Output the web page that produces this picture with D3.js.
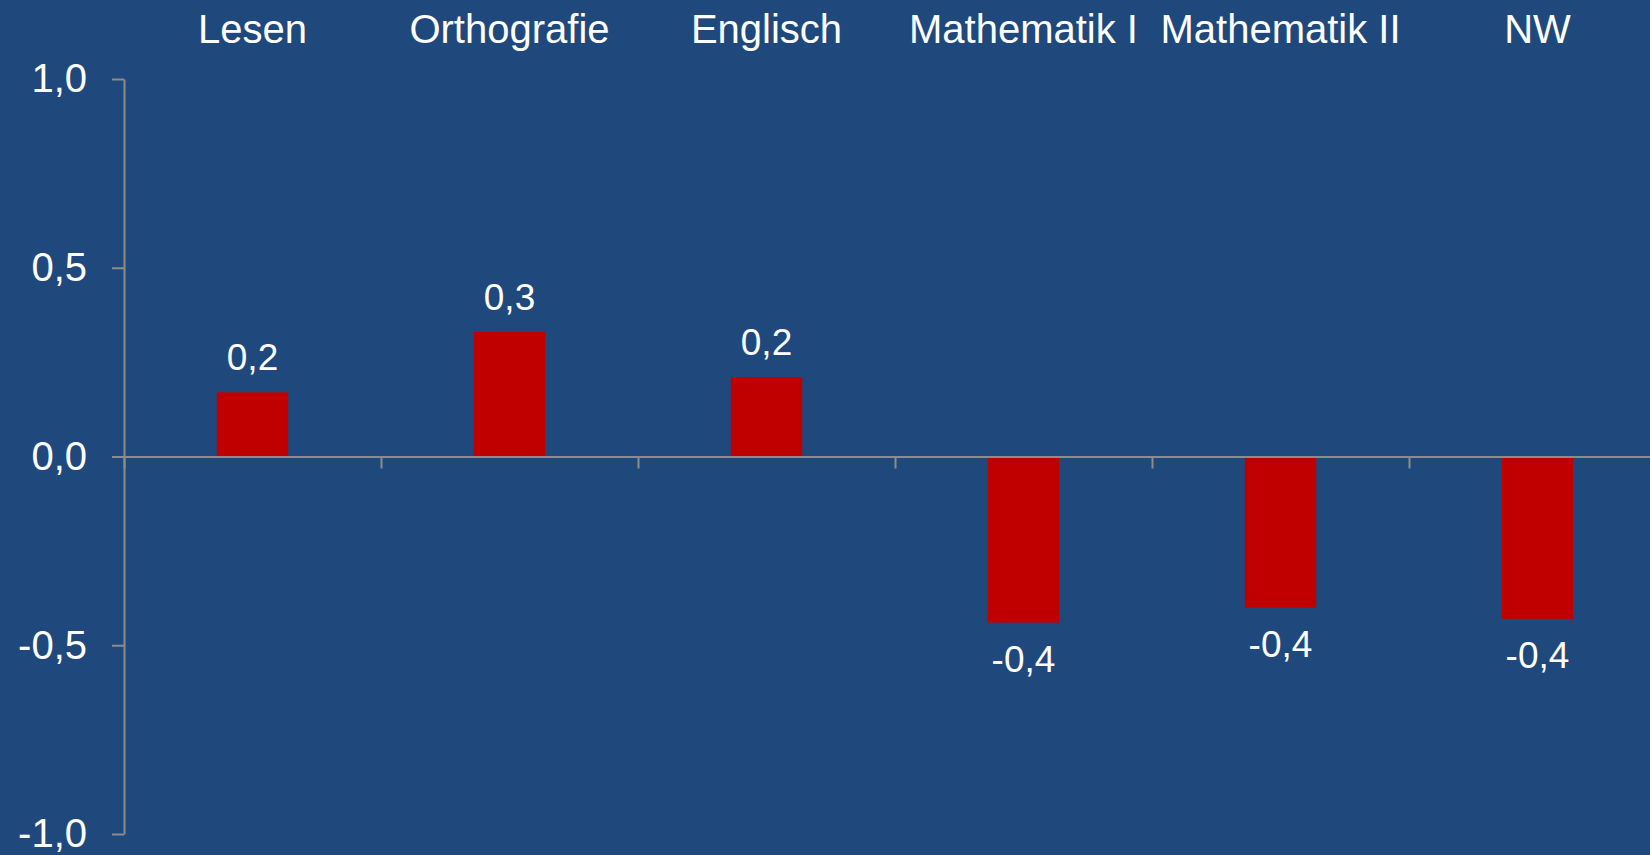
<!DOCTYPE html>
<html>
<head>
<meta charset="utf-8">
<script src="https://cdn.jsdelivr.net/npm/d3@7"></script>
<style>
  html, body { margin: 0; padding: 0; background: #1f497d; }
  svg { display: block; }
  text { font-family: "Liberation Sans", Arial, sans-serif; fill: #ffffff; }
</style>
</head>
<body>
<svg width="1650" height="855"></svg>
<script>
const categories = ["Lesen", "Orthografie", "Englisch", "Mathematik I", "Mathematik II", "NW"];
const values = [0.17, 0.33, 0.21, -0.44, -0.40, -0.43];
const yTicks = [-1, -0.5, 0, 0.5, 1];

const locale = d3.formatLocale({ decimal: ",", thousands: ".", grouping: [3], currency: ["", " €"], minus: "-" });
const fmt = locale.format(".1f");

const svg = d3.select("svg");
const width = 1650, height = 855;
const margin = { top: 79, left: 124, bottom: 21 };
const step = 257;

svg.append("rect")
    .attr("width", width)
    .attr("height", height)
    .attr("fill", "#1f497d");

const x = d3.scaleBand()
    .domain(categories)
    .range([margin.left, margin.left + step * categories.length])
    .padding(0);

const y = d3.scaleLinear()
    .domain([-1, 1])
    .range([height - margin.bottom, margin.top]);

const barW = x.bandwidth() * 0.278;

// bars
svg.selectAll(".bar")
    .data(values)
    .enter().append("rect")
    .attr("class", "bar")
    .attr("x", (d, i) => x(categories[i]) + x.bandwidth() / 2 - barW / 2)
    .attr("y", d => y(Math.max(0, d)))
    .attr("width", barW)
    .attr("height", d => Math.abs(y(d) - y(0)))
    .attr("fill", "#c00000");

// y axis
const yAxis = svg.append("g")
    .attr("transform", `translate(${margin.left},0)`)
    .call(d3.axisLeft(y).tickValues(yTicks).tickFormat(fmt).tickSize(12).tickSizeOuter(0).tickPadding(25));
yAxis.select(".domain").attr("stroke", "#8c8c8c").attr("stroke-width", 2);
yAxis.selectAll(".tick line").attr("stroke", "#8c8c8c").attr("stroke-width", 2);
yAxis.selectAll(".tick text")
    .attr("fill", "#ffffff")
    .style("font-size", "40px")
    .style("font-family", "'Liberation Sans', Arial, sans-serif");

// x axis at zero, ticks at band boundaries
const xb = d3.scaleLinear()
    .domain([0, categories.length])
    .range(x.range());
const xAxis = svg.append("g")
    .attr("transform", `translate(0,${y(0)})`)
    .call(d3.axisBottom(xb).tickValues(d3.range(categories.length + 1)).tickFormat("").tickSize(12).tickSizeOuter(0));
xAxis.select(".domain").attr("stroke", "#8c8c8c").attr("stroke-width", 2);
xAxis.selectAll(".tick line").attr("stroke", "#8c8c8c").attr("stroke-width", 2);

// category labels on top
svg.selectAll(".cat")
    .data(categories)
    .enter().append("text")
    .attr("class", "cat")
    .attr("x", d => x(d) + x.bandwidth() / 2)
    .attr("y", 43)
    .attr("text-anchor", "middle")
    .style("font-size", "40px")
    .text(d => d);

// value labels
svg.selectAll(".val")
    .data(values)
    .enter().append("text")
    .attr("class", "val")
    .attr("x", (d, i) => x(categories[i]) + x.bandwidth() / 2)
    .attr("y", d => d >= 0 ? y(d) - 22 : y(d) + 49)
    .attr("text-anchor", "middle")
    .style("font-size", "37px")
    .text(d => fmt(d));
</script>
</body>
</html>
